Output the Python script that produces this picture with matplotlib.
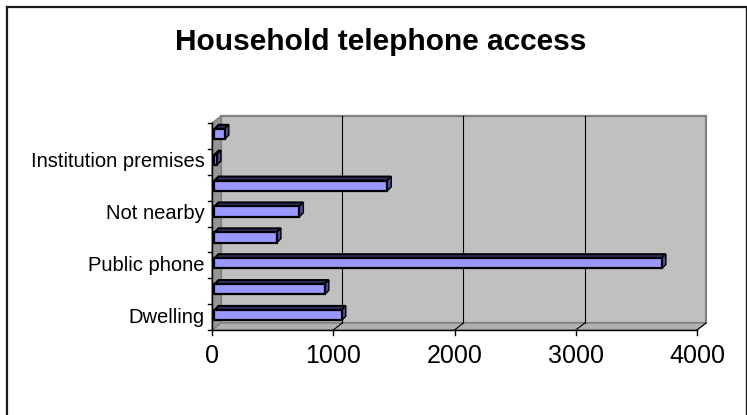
import matplotlib
matplotlib.use("Agg")
import matplotlib.pyplot as plt
from matplotlib.patches import Polygon
from matplotlib.lines import Line2D

# ---- data ----
title = "Household telephone access"
tick_labels = ["Dwelling", "", "Public phone", "", "Not nearby", "", "Institution premises", ""]
values = [1050, 910, 3690, 515, 700, 1425, 20, 85]
x_ticks = [0, 1000, 2000, 3000, 4000]

W, H = 747, 415
DPI = 100
plt.rcParams['font.family'] = ['Liberation Sans', 'DejaVu Sans']

fig = plt.figure(figsize=(W / DPI, H / DPI), dpi=DPI)
fig.patch.set_facecolor('white')

# front plane in pixels
L, R, T, B = 212, 697, 123, 330
ax = fig.add_axes([L / W, 1 - B / H, (R - L) / W, (B - T) / H])
ax.set_xlim(0, 4000)
ax.set_ylim(-0.5, len(values) - 0.5)
ax.axis('off')

px_x = 4000 / (R - L)
px_y = len(values) / (B - T)
DX, DY = 9, 7  # depth offset of back wall in px


def off(x, y, dx, dy):
    return (x + dx * px_x, y + dy * px_y)


ymin, ymax = -0.5, len(values) - 0.5
xmax = x_ticks[-1]

# back wall
wall = Polygon([off(0, ymin, DX, DY), off(xmax, ymin, DX, DY), off(xmax, ymax, DX, DY), off(0, ymax, DX, DY)],
               closed=True, facecolor='#C0C0C0', edgecolor='#808080', lw=1.6, clip_on=False, zorder=1)
ax.add_patch(wall)
# side wall
side = Polygon([(0, ymin), (0, ymax), off(0, ymax, DX, DY), off(0, ymin, DX, DY)],
               closed=True, facecolor='#969696', edgecolor='#808080', lw=1.0, clip_on=False, zorder=2)
ax.add_patch(side)
# floor
floor = Polygon([(0, ymin), (xmax, ymin), off(xmax, ymin, DX, DY), off(0, ymin, DX, DY)],
                closed=True, facecolor='#B0B0B0', edgecolor='#808080', lw=1.0, clip_on=False, zorder=2)
ax.add_patch(floor)

# gridlines
for xv in x_ticks[1:-1]:
    p0 = off(xv, ymin, DX, DY)
    p1 = off(xv, ymax, DX, DY)
    ax.add_line(Line2D([p0[0], p1[0]], [p0[1], p1[1]], color='black', lw=0.8, clip_on=False, zorder=3))
for xv in x_ticks[1:]:
    p0 = off(xv, ymin, DX, DY)
    ax.add_line(Line2D([xv, p0[0]], [ymin, p0[1]], color='black', lw=0.8, clip_on=False, zorder=3))

# bars
FX, FY = 2.5, 2.0   # front face offset px
BX, BY = 6.5, 6.0   # back face offset px
bh = 0.4
ycats = list(range(len(values)))
fx, fy = FX * px_x, FY * px_y
bars = ax.barh([y + fy for y in ycats], values, height=bh, left=fx, color='#9999FF',
               edgecolor='black', linewidth=1.6, zorder=6, clip_on=False)
for y, v in zip(ycats, values):
    y0 = y + fy - bh / 2
    y1 = y + fy + bh / 2
    top = Polygon([off(0, y - bh / 2 + bh, FX, FY), off(v, y + bh / 2, FX, FY),
                   off(v, y + bh / 2, BX, BY), off(0, y + bh / 2, BX, BY)],
                  closed=True, facecolor='#2E2E5C', edgecolor='black', lw=1.4, clip_on=False, zorder=5)
    cap = Polygon([off(v, y - bh / 2, FX, FY), off(v, y + bh / 2, FX, FY),
                   off(v, y + bh / 2, BX, BY), off(v, y - bh / 2, BX, BY)],
                  closed=True, facecolor='#4D4D99', edgecolor='black', lw=1.0, clip_on=False, zorder=5)
    ax.add_patch(top)
    ax.add_patch(cap)

# axes lines
ax.add_line(Line2D([0, xmax], [ymin, ymin], color='black', lw=1.0, clip_on=False, zorder=7))
ax.add_line(Line2D([0, 0], [ymin, ymax], color='black', lw=1.0, clip_on=False, zorder=7))
for xv in x_ticks:
    ax.add_line(Line2D([xv, xv], [ymin, ymin - 5 * px_y], color='black', lw=1.0, clip_on=False, zorder=7))
    ax.text(xv, ymin - 26 * px_y, str(xv), ha='center', va='center', fontsize=18, zorder=8)
for k in range(len(values) + 1):
    yb = ymin + k
    ax.add_line(Line2D([0, -4 * px_x], [yb, yb], color='black', lw=1.0, clip_on=False, zorder=7))
for y, lab in zip(ycats, tick_labels):
    if lab:
        ax.text(-7 * px_x, y, lab, ha='right', va='center', fontsize=14.5, zorder=8)

# title
fig.text(381 / W, 1 - 42 / H, title, ha='center', va='center', fontsize=21.5, fontweight='bold')

# outer border
bc = '#1a1a1a'
fig.add_artist(Line2D([6.5 / W, 745.5 / W], [1 - 7 / H, 1 - 7 / H], transform=fig.transFigure, color=bc, lw=1.6))
fig.add_artist(Line2D([6.5 / W, 6.5 / W], [1 - 7 / H, 0], transform=fig.transFigure, color=bc, lw=1.6))
fig.add_artist(Line2D([745.5 / W, 745.5 / W], [1 - 7 / H, 0], transform=fig.transFigure, color=bc, lw=1.0))

fig.savefig('out.png', dpi=DPI)
